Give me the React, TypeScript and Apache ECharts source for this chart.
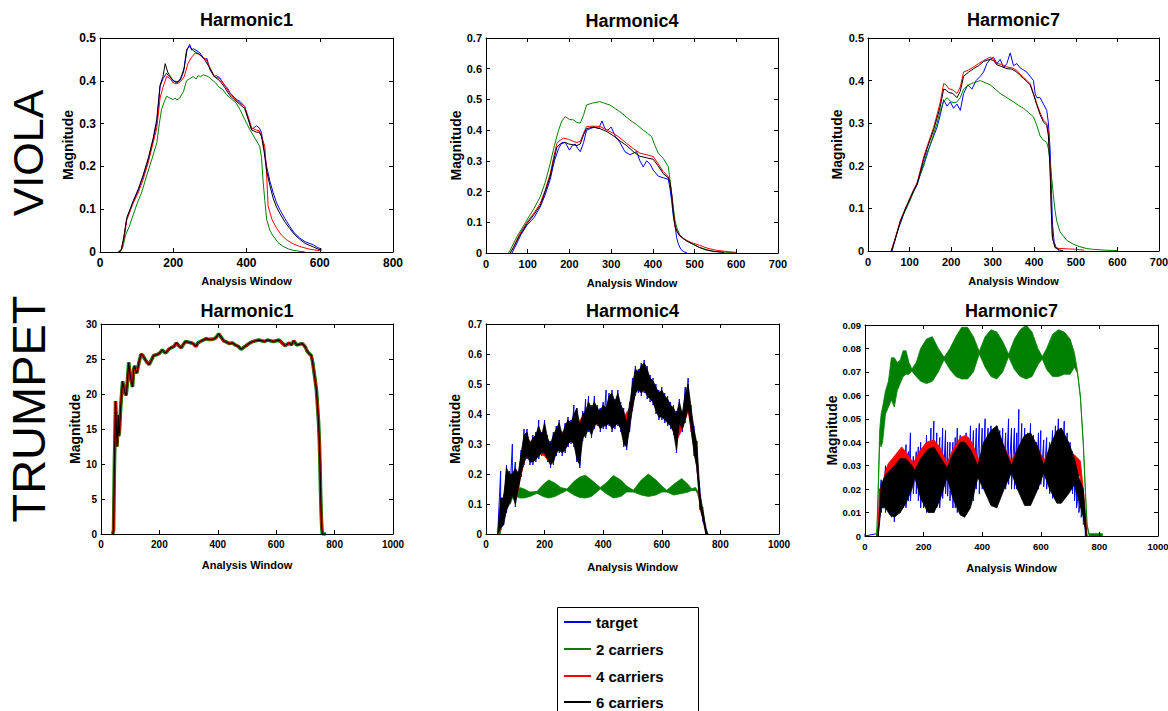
import React, { useEffect, useRef } from "react";
import * as echarts from "echarts";

const FONT = "'Liberation Sans', Arial, Helvetica, sans-serif";

// ---------- legend ----------
const seriesNames = ["target", "2 carriers", "4 carriers", "6 carriers"];
const seriesColors = ["#0000ff", "#008000", "#ff0000", "#000000"];

// ---------- axis ticks ----------
const violaH1XTicks = [0, 200, 400, 600, 800];
const violaH1YTicks = [0, 0.1, 0.2, 0.3, 0.4, 0.5];
const violaH4XTicks = [0, 100, 200, 300, 400, 500, 600, 700];
const violaH4YTicks = [0, 0.1, 0.2, 0.3, 0.4, 0.5, 0.6, 0.7];
const violaH7XTicks = [0, 100, 200, 300, 400, 500, 600, 700];
const violaH7YTicks = [0, 0.1, 0.2, 0.3, 0.4, 0.5];
const trumpetH1XTicks = [0, 200, 400, 600, 800, 1000];
const trumpetH1YTicks = [0, 5, 10, 15, 20, 25, 30];
const trumpetH4XTicks = [0, 200, 400, 600, 800, 1000];
const trumpetH4YTicks = [0, 0.1, 0.2, 0.3, 0.4, 0.5, 0.6, 0.7];
const trumpetH7XTicks = [0, 200, 400, 600, 800, 1000];
const trumpetH7YTicks = [0, 0.01, 0.02, 0.03, 0.04, 0.05, 0.06, 0.07, 0.08, 0.09];

// ---------- VIOLA Harmonic1 : [window, magnitude] ----------
const violaH1Target = [[50,0],[58,0.005],[65,0.03],[73,0.076],[91,0.118],[105,0.145],[118,0.177],[132,0.215],[145,0.262],[155,0.3],[164,0.387],[172,0.405],[182,0.418],[186,0.412],[190,0.41],[200,0.4],[210,0.398],[218,0.4],[228,0.42],[236,0.47],[245,0.485],[250,0.472],[255,0.475],[265,0.47],[273,0.465],[285,0.45],[292,0.452],[300,0.426],[312,0.41],[318,0.412],[327,0.407],[340,0.39],[348,0.383],[355,0.372],[368,0.36],[375,0.355],[382,0.352],[395,0.34],[405,0.31],[414,0.286],[427,0.295],[435,0.29],[441,0.278],[448,0.24],[455,0.2],[464,0.165],[473,0.138],[482,0.115],[491,0.099],[505,0.078],[518,0.06],[530,0.045],[545,0.033],[560,0.024],[582,0.017],[595,0.01],[605,0.007]];
const violaH1Two = [[55,0],[62,0.01],[70,0.04],[80,0.06],[100,0.11],[114,0.14],[127,0.177],[141,0.215],[155,0.255],[162,0.3],[168,0.333],[175,0.35],[182,0.364],[190,0.36],[200,0.356],[205,0.36],[210,0.355],[218,0.36],[228,0.375],[236,0.4],[245,0.405],[255,0.41],[262,0.404],[268,0.412],[275,0.41],[282,0.414],[295,0.41],[309,0.4],[316,0.395],[325,0.385],[335,0.38],[345,0.368],[362,0.355],[372,0.348],[382,0.333],[395,0.31],[409,0.286],[423,0.266],[436,0.247],[441,0.22],[445,0.169],[450,0.12],[455,0.076],[464,0.05],[473,0.037],[486,0.022],[500,0.013],[515,0.007],[527,0.004],[560,0]];
const violaH1Four = [[52,0],[60,0.008],[66,0.035],[73,0.075],[91,0.115],[105,0.14],[118,0.17],[132,0.21],[145,0.255],[155,0.29],[164,0.36],[172,0.385],[182,0.41],[192,0.405],[200,0.395],[210,0.393],[220,0.398],[230,0.41],[240,0.44],[250,0.455],[260,0.465],[270,0.462],[280,0.455],[290,0.45],[300,0.43],[312,0.41],[327,0.405],[340,0.39],[355,0.37],[368,0.358],[382,0.348],[395,0.34],[405,0.315],[414,0.29],[427,0.285],[435,0.283],[441,0.27],[450,0.247],[455,0.18],[459,0.107],[470,0.075],[482,0.056],[495,0.04],[509,0.029],[525,0.02],[545,0.013],[570,0.007],[600,0.003]];
const violaH1Six = [[50,0],[58,0.005],[65,0.035],[73,0.08],[91,0.12],[105,0.148],[118,0.18],[132,0.22],[145,0.265],[155,0.31],[164,0.39],[172,0.41],[178,0.44],[185,0.42],[192,0.41],[200,0.4],[210,0.395],[220,0.405],[230,0.43],[238,0.475],[245,0.48],[255,0.47],[265,0.465],[275,0.46],[285,0.45],[300,0.43],[312,0.41],[327,0.4],[340,0.385],[355,0.365],[368,0.355],[382,0.345],[395,0.335],[405,0.31],[414,0.285],[427,0.28],[435,0.28],[441,0.27],[448,0.235],[455,0.19],[464,0.155],[473,0.125],[482,0.105],[491,0.09],[505,0.07],[518,0.055],[530,0.042],[545,0.03],[560,0.02],[582,0.012],[595,0.007],[605,0.004]];

// ---------- VIOLA Harmonic4 ----------
const violaH4Target = [[62,0],[70,0.02],[84,0.06],[98,0.09],[115,0.115],[130,0.15],[142,0.19],[154,0.24],[164,0.3],[174,0.34],[182,0.36],[190,0.36],[200,0.335],[207,0.35],[214,0.355],[220,0.34],[226,0.33],[234,0.36],[241,0.4],[250,0.405],[260,0.41],[270,0.405],[278,0.43],[285,0.405],[292,0.4],[300,0.41],[310,0.38],[321,0.36],[333,0.33],[345,0.32],[353,0.325],[361,0.33],[369,0.3],[377,0.28],[385,0.3],[393,0.29],[401,0.27],[413,0.25],[425,0.245],[437,0.24],[441,0.21],[445,0.17],[449,0.12],[453,0.09],[457,0.05],[461,0.03],[467,0.012],[473,0.005],[482,0]];
const violaH4Two = [[54,0],[62,0.02],[75,0.055],[98,0.107],[115,0.145],[130,0.183],[142,0.23],[154,0.292],[164,0.35],[174,0.4],[182,0.43],[190,0.444],[200,0.435],[210,0.433],[218,0.425],[226,0.423],[234,0.45],[241,0.482],[255,0.488],[273,0.493],[285,0.487],[297,0.482],[310,0.47],[321,0.46],[333,0.447],[345,0.433],[361,0.418],[377,0.4],[387,0.39],[397,0.379],[405,0.35],[413,0.325],[425,0.308],[437,0.281],[441,0.24],[445,0.194],[449,0.15],[453,0.107],[458,0.08],[465,0.058],[480,0.04],[497,0.028],[512,0.018],[528,0.011],[545,0.006],[568,0.003],[600,0.001]];
const violaH4Four = [[58,0],[66,0.02],[80,0.06],[98,0.1],[115,0.13],[130,0.161],[142,0.205],[154,0.259],[162,0.31],[170,0.357],[178,0.368],[186,0.374],[198,0.37],[210,0.363],[218,0.36],[226,0.363],[234,0.39],[241,0.412],[258,0.413],[273,0.412],[290,0.4],[305,0.39],[321,0.375],[337,0.357],[353,0.34],[369,0.325],[385,0.32],[401,0.314],[413,0.29],[425,0.265],[437,0.248],[441,0.23],[445,0.194],[449,0.14],[453,0.085],[462,0.06],[473,0.047],[490,0.035],[512,0.025],[530,0.016],[552,0.009],[575,0.005],[600,0.002]];
const violaH4Six = [[58,0],[66,0.018],[80,0.055],[98,0.095],[115,0.125],[130,0.155],[142,0.2],[154,0.25],[162,0.3],[170,0.345],[178,0.355],[190,0.36],[198,0.355],[210,0.352],[218,0.35],[226,0.355],[234,0.385],[241,0.405],[258,0.41],[273,0.405],[290,0.395],[305,0.382],[321,0.365],[337,0.35],[353,0.33],[369,0.315],[385,0.31],[401,0.305],[413,0.283],[425,0.258],[437,0.245],[441,0.23],[445,0.19],[449,0.13],[453,0.09],[458,0.07],[465,0.055],[480,0.04],[497,0.028],[512,0.018],[528,0.01],[545,0.005],[570,0.002]];

// ---------- VIOLA Harmonic7 ----------
const violaH7Target = [[58,0],[66,0.03],[72,0.05],[80,0.07],[90,0.1],[102,0.125],[110,0.14],[118,0.155],[126,0.18],[134,0.205],[142,0.23],[150,0.25],[158,0.27],[166,0.29],[174,0.32],[182,0.355],[190,0.34],[198,0.35],[206,0.335],[214,0.345],[222,0.33],[230,0.37],[240,0.39],[250,0.38],[260,0.4],[270,0.41],[278,0.42],[286,0.44],[294,0.45],[302,0.455],[310,0.44],[318,0.45],[326,0.43],[334,0.44],[342,0.465],[350,0.435],[358,0.44],[366,0.43],[374,0.425],[382,0.42],[390,0.41],[398,0.4],[402,0.37],[406,0.36],[414,0.36],[422,0.345],[430,0.33],[434,0.3],[438,0.24],[441,0.15],[444,0.06],[448,0.02],[452,0.01],[460,0]];
const violaH7Two = [[56,0],[64,0.025],[78,0.07],[90,0.095],[102,0.12],[118,0.16],[134,0.2],[150,0.25],[166,0.3],[174,0.33],[182,0.35],[190,0.36],[200,0.35],[207,0.348],[214,0.35],[222,0.36],[230,0.38],[242,0.39],[254,0.395],[270,0.4],[282,0.395],[294,0.39],[306,0.38],[318,0.37],[334,0.36],[350,0.35],[362,0.342],[374,0.335],[386,0.325],[398,0.315],[406,0.295],[414,0.27],[422,0.26],[430,0.255],[434,0.24],[438,0.21],[442,0.17],[446,0.13],[450,0.095],[454,0.07],[462,0.045],[470,0.035],[478,0.025],[494,0.016],[510,0.01],[525,0.006],[540,0.004],[570,0.002],[600,0.001]];
const violaH7Four = [[56,0],[64,0.025],[70,0.045],[78,0.073],[90,0.1],[102,0.127],[110,0.145],[118,0.159],[126,0.19],[134,0.221],[142,0.245],[150,0.268],[158,0.29],[166,0.32],[174,0.35],[182,0.393],[188,0.39],[194,0.381],[204,0.378],[214,0.37],[222,0.385],[230,0.42],[242,0.425],[254,0.432],[266,0.44],[278,0.447],[294,0.455],[302,0.45],[310,0.44],[322,0.438],[334,0.432],[346,0.43],[358,0.424],[366,0.415],[374,0.408],[382,0.4],[390,0.393],[398,0.37],[406,0.346],[414,0.325],[422,0.307],[430,0.3],[434,0.28],[438,0.198],[441,0.1],[443,0.034],[450,0.008],[460,0.006],[480,0.005],[500,0.004],[520,0.002]];
const violaH7Six = [[56,0],[64,0.022],[70,0.042],[78,0.07],[90,0.098],[102,0.125],[110,0.142],[118,0.157],[126,0.185],[134,0.215],[142,0.24],[150,0.262],[158,0.285],[166,0.312],[174,0.34],[182,0.38],[188,0.378],[194,0.372],[204,0.37],[214,0.36],[222,0.375],[230,0.41],[242,0.42],[254,0.428],[266,0.435],[278,0.445],[294,0.45],[302,0.447],[310,0.437],[322,0.433],[334,0.428],[346,0.427],[358,0.42],[366,0.412],[374,0.405],[382,0.398],[390,0.39],[398,0.368],[406,0.343],[414,0.32],[422,0.303],[430,0.295],[434,0.27],[438,0.19],[441,0.09],[444,0.03],[450,0.008],[460,0.003],[470,0]];

// ---------- TRUMPET Harmonic1 (all four versions coincide at this scale) ----------
const trumpetH1Curve = [[40,0],[43,0.5],[46,10],[50,19],[53,15],[55,12.5],[59,17],[61,14],[63,14.5],[66,17],[68,18.5],[74,21.8],[78,21],[82,20.2],[86,19.8],[89,21],[95,24.5],[99,23],[103,22],[108,21],[112,23.5],[115,24],[120,23.2],[123,23],[130,24.5],[137,25.7],[143,25.5],[150,25],[158,24.5],[165,24.2],[172,24.8],[180,25.5],[190,25.6],[200,25.8],[210,26.3],[218,25.9],[225,26],[232,26.4],[240,26.6],[250,26.8],[258,27.3],[266,26.9],[275,26.6],[282,27.1],[290,27.5],[300,27.4],[310,27.3],[318,27.1],[325,26.8],[332,27.3],[340,27.5],[350,27.7],[360,27.9],[370,27.8],[380,27.8],[388,27.9],[395,28.1],[403,28.6],[410,28.2],[420,27.6],[430,27.4],[440,27.2],[450,27.3],[460,27],[470,26.8],[480,26.4],[490,26.7],[500,27],[510,27.3],[520,27.5],[530,27.6],[540,27.7],[550,27.6],[560,27.5],[570,27.7],[580,27.6],[590,27.5],[600,27.6],[610,27.7],[620,27.3],[630,26.9],[638,27.1],[645,27.3],[652,27],[660,27.6],[665,27.3],[670,27],[680,27.1],[690,27.2],[700,26.7],[705,26.2],[710,25.9],[720,25.5],[725,24.5],[730,23],[735,21.5],[738,20.5],[742,18],[745,16],[748,13],[750,10],[752,6],[754,3],[756,1],[758,0],[770,0]];

// ---------- TRUMPET Harmonic4 : [window, upper envelope, lower envelope] ----------
const trumpetH4Target = [[40,0,0],[50,0.21,0.02],[60,0.13,0.03],[70,0.23,0.07],[80,0.21,0.1],[90,0.3,0.12],[100,0.24,0.09],[110,0.21,0.14],[120,0.28,0.19],[130,0.35,0.23],[140,0.35,0.25],[150,0.31,0.23],[160,0.33,0.23],[170,0.34,0.24],[180,0.38,0.25],[190,0.34,0.26],[200,0.38,0.26],[210,0.33,0.24],[220,0.31,0.22],[230,0.34,0.23],[240,0.36,0.26],[250,0.38,0.27],[260,0.34,0.26],[270,0.37,0.27],[280,0.39,0.29],[290,0.38,0.3],[300,0.43,0.29],[310,0.42,0.24],[320,0.37,0.22],[330,0.41,0.31],[340,0.45,0.32],[350,0.46,0.34],[360,0.43,0.32],[370,0.46,0.35],[380,0.43,0.36],[390,0.42,0.34],[400,0.44,0.35],[410,0.48,0.35],[420,0.47,0.36],[430,0.48,0.34],[440,0.45,0.35],[450,0.48,0.36],[460,0.44,0.34],[470,0.42,0.29],[480,0.38,0.28],[490,0.44,0.34],[500,0.52,0.41],[510,0.56,0.46],[520,0.55,0.47],[530,0.57,0.46],[540,0.58,0.47],[550,0.56,0.45],[560,0.53,0.44],[570,0.52,0.43],[580,0.5,0.4],[590,0.48,0.38],[600,0.49,0.38],[610,0.47,0.37],[620,0.46,0.36],[630,0.44,0.35],[640,0.43,0.33],[650,0.41,0.27],[660,0.45,0.36],[670,0.41,0.34],[680,0.49,0.37],[690,0.52,0.41],[700,0.43,0.34],[710,0.36,0.26],[720,0.31,0.21],[730,0.15,0.08],[740,0.09,0.04],[750,0.03,0],[758,0,0]];
const trumpetH4Two = [[48,0,0],[55,0.05,0.03],[62,0.1,0.08],[72,0.13,0.11],[83,0.12,0.1],[94,0.145,0.13],[106,0.145,0.125],[115,0.155,0.12],[130,0.15,0.12],[150,0.14,0.125],[174,0.142,0.136],[195,0.165,0.125],[214,0.18,0.12],[235,0.17,0.125],[255,0.155,0.135],[276,0.15,0.145],[300,0.175,0.13],[320,0.19,0.122],[339,0.196,0.12],[360,0.18,0.125],[390,0.155,0.15],[410,0.17,0.135],[435,0.195,0.12],[460,0.18,0.125],[480,0.16,0.14],[503,0.146,0.14],[530,0.18,0.13],[554,0.2,0.125],[580,0.18,0.13],[600,0.16,0.14],[617,0.146,0.14],[640,0.165,0.13],[668,0.185,0.135],[690,0.165,0.14],[702,0.151,0.145],[715,0.155,0.145],[722,0.145,0.135],[730,0.115,0.105],[742,0.072,0.065],[753,0,0]];
const trumpetH4Four = [[45,0,0],[55,0.1,0.04],[70,0.18,0.09],[90,0.19,0.13],[105,0.16,0.12],[120,0.26,0.2],[140,0.32,0.27],[160,0.3,0.25],[180,0.33,0.27],[200,0.32,0.26],[215,0.28,0.24],[230,0.31,0.26],[250,0.34,0.29],[270,0.34,0.29],[290,0.36,0.31],[310,0.37,0.3],[330,0.39,0.34],[350,0.41,0.36],[370,0.41,0.37],[390,0.4,0.36],[410,0.41,0.37],[430,0.43,0.37],[450,0.43,0.38],[470,0.39,0.33],[490,0.42,0.36],[510,0.52,0.48],[530,0.53,0.48],[550,0.52,0.47],[570,0.49,0.44],[590,0.45,0.4],[610,0.44,0.39],[630,0.41,0.37],[650,0.36,0.31],[670,0.39,0.35],[690,0.46,0.41],[710,0.33,0.28],[720,0.27,0.22],[730,0.12,0.09],[740,0.07,0.05],[752,0,0]];
const trumpetH4Six = [[40,0,0],[50,0.12,0.02],[60,0.12,0.03],[70,0.22,0.08],[80,0.2,0.1],[90,0.2,0.13],[100,0.22,0.1],[110,0.2,0.15],[120,0.27,0.2],[130,0.33,0.24],[140,0.34,0.26],[150,0.3,0.24],[160,0.32,0.24],[170,0.33,0.25],[180,0.36,0.26],[190,0.33,0.27],[200,0.37,0.27],[210,0.32,0.25],[220,0.3,0.23],[230,0.33,0.24],[240,0.35,0.27],[250,0.37,0.28],[260,0.33,0.27],[270,0.36,0.28],[280,0.38,0.3],[290,0.37,0.31],[300,0.4,0.3],[310,0.42,0.25],[320,0.36,0.23],[330,0.4,0.32],[340,0.41,0.33],[350,0.44,0.35],[360,0.42,0.33],[370,0.44,0.36],[380,0.42,0.37],[390,0.41,0.35],[400,0.43,0.36],[410,0.42,0.36],[420,0.46,0.37],[430,0.47,0.35],[440,0.44,0.36],[450,0.47,0.37],[460,0.43,0.35],[470,0.41,0.3],[480,0.37,0.29],[490,0.43,0.35],[500,0.5,0.42],[510,0.55,0.47],[520,0.54,0.48],[530,0.56,0.47],[540,0.57,0.48],[550,0.55,0.46],[560,0.52,0.45],[570,0.51,0.44],[580,0.49,0.41],[590,0.47,0.39],[600,0.48,0.39],[610,0.46,0.38],[620,0.45,0.37],[630,0.43,0.36],[640,0.42,0.34],[650,0.4,0.28],[660,0.44,0.37],[670,0.4,0.35],[680,0.47,0.38],[690,0.5,0.42],[700,0.42,0.35],[710,0.35,0.27],[720,0.3,0.22],[730,0.14,0.09],[740,0.08,0.05],[750,0.02,0],[758,0,0]];

// ---------- TRUMPET Harmonic7 : [window, upper envelope, lower envelope] ----------
const trumpetH7Target = [[0,0.001,0],[40,0.001,0],[45,0.004,0],[50,0.02,0.008],[55,0.024,0.01],[60,0.022,0.012],[70,0.03,0.01],[80,0.028,0.01],[90,0.03,0.008],[100,0.034,0.006],[110,0.03,0.01],[120,0.034,0.01],[130,0.036,0.012],[140,0.039,0.012],[148,0.036,0.015],[155,0.044,0.015],[165,0.034,0.018],[175,0.036,0.018],[182,0.038,0.015],[190,0.04,0.012],[200,0.038,0.012],[210,0.043,0.01],[218,0.04,0.012],[225,0.046,0.012],[235,0.049,0.01],[245,0.044,0.012],[255,0.042,0.012],[265,0.046,0.016],[275,0.045,0.018],[282,0.04,0.017],[290,0.04,0.015],[300,0.04,0.012],[308,0.042,0.012],[315,0.046,0.01],[325,0.043,0.01],[335,0.041,0.012],[345,0.044,0.012],[352,0.042,0.013],[360,0.047,0.014],[370,0.045,0.015],[380,0.046,0.02],[390,0.048,0.018],[400,0.046,0.02],[410,0.05,0.02],[420,0.046,0.018],[430,0.047,0.016],[440,0.044,0.015],[450,0.047,0.015],[460,0.045,0.018],[470,0.046,0.02],[480,0.044,0.02],[490,0.05,0.022],[500,0.046,0.02],[510,0.046,0.02],[518,0.044,0.02],[525,0.054,0.02],[535,0.048,0.016],[545,0.046,0.014],[555,0.044,0.014],[565,0.048,0.014],[575,0.043,0.017],[585,0.04,0.02],[592,0.044,0.02],[600,0.045,0.022],[610,0.041,0.021],[620,0.042,0.02],[630,0.04,0.018],[640,0.045,0.016],[650,0.047,0.016],[660,0.05,0.017],[670,0.046,0.017],[680,0.049,0.018],[690,0.044,0.018],[700,0.04,0.02],[708,0.036,0.018],[715,0.03,0.015],[722,0.026,0.012],[730,0.02,0.01],[738,0.018,0.008],[745,0.015,0.005],[752,0.005,0],[760,0,0]];
const trumpetH7Two = [[40,0,0],[45,0.02,0.018],[50,0.045,0.04],[55,0.052,0.038],[60,0.055,0.04],[70,0.062,0.052],[80,0.066,0.055],[90,0.076,0.058],[100,0.076,0.055],[110,0.074,0.062],[120,0.075,0.065],[130,0.079,0.068],[140,0.079,0.069],[150,0.074,0.069],[160,0.0712,0.0703],[175,0.074,0.068],[190,0.08,0.066],[210,0.084,0.065],[230,0.085,0.066],[250,0.08,0.07],[270,0.0762,0.0752],[290,0.08,0.071],[310,0.085,0.068],[330,0.089,0.067],[350,0.089,0.067],[370,0.085,0.07],[390,0.0787,0.0777],[410,0.085,0.072],[430,0.088,0.068],[450,0.087,0.067],[470,0.083,0.07],[490,0.0775,0.0765],[510,0.084,0.071],[530,0.088,0.068],[550,0.09,0.067],[570,0.087,0.068],[590,0.08,0.073],[605,0.0765,0.0755],[620,0.08,0.071],[640,0.086,0.068],[660,0.088,0.068],[680,0.087,0.069],[700,0.084,0.069],[715,0.078,0.072],[725,0.0705,0.0695],[735,0.06,0.059],[745,0.04,0.039],[752,0.02,0.019],[758,0.005,0.004],[765,0.001,0],[810,0.001,0]];
const trumpetH7Four = [[45,0.005,0],[50,0.02,0.01],[60,0.022,0.015],[70,0.028,0.018],[80,0.031,0.02],[100,0.034,0.018],[125,0.038,0.016],[145,0.035,0.02],[165,0.031,0.027],[185,0.036,0.022],[210,0.04,0.016],[235,0.041,0.016],[255,0.038,0.02],[280,0.031,0.028],[300,0.037,0.022],[325,0.042,0.016],[345,0.043,0.015],[365,0.04,0.02],[390,0.032,0.028],[410,0.037,0.022],[430,0.041,0.018],[450,0.042,0.018],[475,0.038,0.023],[500,0.032,0.029],[520,0.037,0.024],[545,0.042,0.018],[565,0.043,0.018],[590,0.038,0.024],[610,0.032,0.029],[630,0.037,0.023],[655,0.042,0.018],[675,0.042,0.02],[700,0.036,0.025],[720,0.034,0.028],[735,0.032,0.025],[745,0.02,0.012],[752,0.01,0.005],[758,0,0]];
const trumpetH7Six = [[45,0,0],[55,0.022,0.012],[70,0.026,0.012],[85,0.028,0.009],[100,0.03,0.008],[120,0.033,0.01],[140,0.033,0.014],[160,0.03,0.02],[170,0.028,0.025],[190,0.033,0.016],[215,0.037,0.01],[235,0.038,0.01],[255,0.034,0.015],[280,0.029,0.025],[300,0.035,0.016],[325,0.04,0.009],[340,0.04,0.008],[360,0.037,0.012],[385,0.03,0.025],[405,0.04,0.02],[430,0.045,0.013],[450,0.047,0.012],[475,0.038,0.02],[500,0.03,0.027],[520,0.037,0.02],[545,0.043,0.013],[565,0.044,0.013],[590,0.038,0.02],[610,0.03,0.027],[630,0.038,0.02],[655,0.045,0.014],[670,0.046,0.014],[695,0.04,0.018],[715,0.033,0.022],[730,0.025,0.015],[745,0.02,0.008],[755,0.003,0]];

// ---------- panel layout ----------
type SeriesSpec = { kind: "line" | "band" | "zigzag"; data: number[][]; width?: number };
type Panel = {
  title: string;
  grid: { left: number; top: number; width: number; height: number };
  xTicks: number[];
  yTicks: number[];
  tickSize: number;
  yGap: number;
  xGap: number;
  titleY: number;
  series: SeriesSpec[]; // order: target, 2, 4, 6 carriers
};

const panels: Panel[] = [
  {
    title: "Harmonic1", grid: { left: 100, top: 38, width: 293, height: 214 },
    xTicks: violaH1XTicks, yTicks: violaH1YTicks, tickSize: 12, yGap: 24, xGap: 23, titleY: 20,
    series: [
      { kind: "line", data: violaH1Target }, { kind: "line", data: violaH1Two },
      { kind: "line", data: violaH1Four }, { kind: "line", data: violaH1Six },
    ],
  },
  {
    title: "Harmonic4", grid: { left: 486, top: 38, width: 292, height: 215 },
    xTicks: violaH4XTicks, yTicks: violaH4YTicks, tickSize: 11, yGap: 21, xGap: 24, titleY: 21,
    series: [
      { kind: "line", data: violaH4Target }, { kind: "line", data: violaH4Two },
      { kind: "line", data: violaH4Four }, { kind: "line", data: violaH4Six },
    ],
  },
  {
    title: "Harmonic7", grid: { left: 868, top: 38, width: 291, height: 213 },
    xTicks: violaH7XTicks, yTicks: violaH7YTicks, tickSize: 11, yGap: 24, xGap: 24, titleY: 20,
    series: [
      { kind: "line", data: violaH7Target }, { kind: "line", data: violaH7Two },
      { kind: "line", data: violaH7Four }, { kind: "line", data: violaH7Six },
    ],
  },
  {
    title: "Harmonic1", grid: { left: 101, top: 324, width: 292, height: 210 },
    xTicks: trumpetH1XTicks, yTicks: trumpetH1YTicks, tickSize: 10, yGap: 19, xGap: 25, titleY: 311,
    series: [
      { kind: "line", data: trumpetH1Curve, width: 1.6 }, { kind: "line", data: trumpetH1Curve, width: 3.6 },
      { kind: "line", data: trumpetH1Curve, width: 2.2 }, { kind: "line", data: trumpetH1Curve, width: 1.1 },
    ],
  },
  {
    title: "Harmonic4", grid: { left: 486, top: 324, width: 293, height: 210 },
    xTicks: trumpetH4XTicks, yTicks: trumpetH4YTicks, tickSize: 10, yGap: 24, xGap: 27, titleY: 311,
    series: [
      { kind: "zigzag", data: trumpetH4Target }, { kind: "band", data: trumpetH4Two },
      { kind: "band", data: trumpetH4Four }, { kind: "band", data: trumpetH4Six },
    ],
  },
  {
    title: "Harmonic7", grid: { left: 865, top: 325, width: 293, height: 211 },
    xTicks: trumpetH7XTicks, yTicks: trumpetH7YTicks, tickSize: 9.5, yGap: 25, xGap: 26, titleY: 311,
    series: [
      { kind: "zigzag", data: trumpetH7Target }, { kind: "band", data: trumpetH7Two },
      { kind: "band", data: trumpetH7Four }, { kind: "band", data: trumpetH7Six },
    ],
  },
];

function bandRenderer(rows: number[][], color: string) {
  return (params: any, api: any) => {
    if (params.dataIndex !== 0) return { type: "group", children: [] };
    const upper = rows.map((r) => api.coord([r[0], r[1]]));
    const lower = rows.slice().reverse().map((r) => api.coord([r[0], r[2]]));
    return {
      type: "polygon",
      shape: { points: upper.concat(lower) },
      style: { fill: color, stroke: color, lineWidth: 0.8 },
    };
  };
}

// dense oscillation drawn as a line that jumps between the read upper and lower envelopes
function zigzag(rows: number[][]) {
  const out: number[][] = [];
  rows.forEach((r) => {
    out.push([r[0], r[1]]);
    out.push([r[0], r[2]]);
  });
  return out;
}

function buildOption() {
  const grid: any[] = [];
  const xAxis: any[] = [];
  const yAxis: any[] = [];
  const series: any[] = [];
  const graphic: any[] = [];

  const tickStyle = { show: true, inside: true, length: 4, lineStyle: { color: "#000", width: 1 } };
  const lineStyle = { show: true, onZero: false, lineStyle: { color: "#000", width: 1 } };
  const range = (t: number[]) => ({ min: t[0], max: t[t.length - 1], interval: t[1] - t[0] });
  const fmt = (v: number) => String(Math.round(v * 1000) / 1000);

  panels.forEach((p, i) => {
    grid.push({ ...p.grid, show: false, containLabel: false, outerBoundsMode: "none" });
    const labelStyle = {
      color: "#000", fontWeight: "bold", fontSize: p.tickSize, fontFamily: FONT,
      showMinLabel: true, showMaxLabel: true, hideOverlap: false, formatter: fmt,
    };
    const nameStyleX = { color: "#000", fontWeight: "bold", fontSize: 11, fontFamily: FONT };
    const nameStyleY = { color: "#000", fontWeight: "bold", fontSize: 14, fontFamily: FONT };

    xAxis.push({
      type: "value", gridIndex: i, position: "bottom", ...range(p.xTicks), z: 10,
      axisLine: lineStyle, axisTick: tickStyle, splitLine: { show: false },
      axisLabel: { ...labelStyle, margin: 5 },
      name: "Analysis Window", nameLocation: "middle", nameGap: p.xGap, nameTextStyle: nameStyleX,
    });
    xAxis.push({
      type: "value", gridIndex: i, position: "top", ...range(p.xTicks), z: 10,
      axisLine: lineStyle, axisTick: tickStyle, splitLine: { show: false }, axisLabel: { show: false },
    });
    yAxis.push({
      type: "value", gridIndex: i, position: "left", ...range(p.yTicks), z: 10,
      axisLine: lineStyle, axisTick: tickStyle, splitLine: { show: false },
      axisLabel: { ...labelStyle, margin: 4 },
      name: "Magnitude", nameLocation: "middle", nameRotate: 90, nameGap: p.yGap, nameTextStyle: nameStyleY,
    });
    yAxis.push({
      type: "value", gridIndex: i, position: "right", ...range(p.yTicks), z: 10,
      axisLine: lineStyle, axisTick: tickStyle, splitLine: { show: false }, axisLabel: { show: false },
    });

    p.series.forEach((s, k) => {
      const color = seriesColors[k];
      const z = 2 + k; // draw order: target, 2, 4, 6 carriers (6 on top)
      if (s.kind === "band") {
        series.push({
          type: "custom", name: seriesNames[k], coordinateSystem: "cartesian2d", z,
          xAxisIndex: 2 * i, yAxisIndex: 2 * i, data: s.data, silent: true, clip: true,
          encode: { x: 0, y: [1, 2] }, itemStyle: { color },
          renderItem: bandRenderer(s.data, color),
        });
      } else {
        series.push({
          type: "line", name: seriesNames[k], xAxisIndex: 2 * i, yAxisIndex: 2 * i, z,
          data: s.kind === "zigzag" ? zigzag(s.data) : s.data,
          showSymbol: false, symbol: "none", silent: true, clip: true,
          lineStyle: { color, width: s.width ?? 1 }, itemStyle: { color },
        });
      }
    });

    graphic.push({
      type: "text", x: p.grid.left + p.grid.width / 2, y: p.titleY, silent: true,
      style: {
        text: p.title, align: "center", verticalAlign: "middle",
        fontSize: 18, fontWeight: "bold", fontFamily: FONT, fill: "#000",
      },
    });
  });

  // row labels
  graphic.push({
    type: "text", x: 28, y: 153, rotation: Math.PI / 2, silent: true,
    style: { text: "VIOLA", align: "center", verticalAlign: "middle", fontSize: 43, fontFamily: FONT, fill: "#000" },
  });
  graphic.push({
    type: "text", x: 28, y: 409, rotation: Math.PI / 2, silent: true,
    style: { text: "TRUMPET", align: "center", verticalAlign: "middle", fontSize: 47, fontFamily: FONT, fill: "#000" },
  });

  // legend box
  const legendTop = 607;
  const legendRows = [622, 649, 676, 702];
  graphic.push({
    type: "rect", shape: { x: 557.5, y: legendTop + 0.5, width: 141, height: 120 }, silent: true,
    style: { fill: "#fff", stroke: "#000", lineWidth: 1 },
  });
  seriesNames.forEach((n, k) => {
    graphic.push({
      type: "line", shape: { x1: 564, y1: legendRows[k], x2: 591, y2: legendRows[k] }, silent: true,
      style: { stroke: seriesColors[k], lineWidth: 2 },
    });
    graphic.push({
      type: "text", x: 596, y: legendRows[k], silent: true,
      style: { text: n, align: "left", verticalAlign: "middle", fontSize: 15, fontWeight: "bold", fontFamily: FONT, fill: "#000" },
    });
  });

  return {
    animation: false,
    backgroundColor: "#fff",
    grid, xAxis, yAxis, series, graphic,
  };
}

export default function App() {
  const ref = useRef<HTMLDivElement>(null);
  useEffect(() => {
    if (!ref.current) return;
    const chart = echarts.init(ref.current, undefined, { renderer: "svg" });
    chart.setOption(buildOption() as any);
    return () => chart.dispose();
  }, []);
  return (
    <div
      ref={ref}
      style={{ position: "absolute", left: 0, top: 0, width: 1168, height: 711, background: "#fff" }}
    />
  );
}
